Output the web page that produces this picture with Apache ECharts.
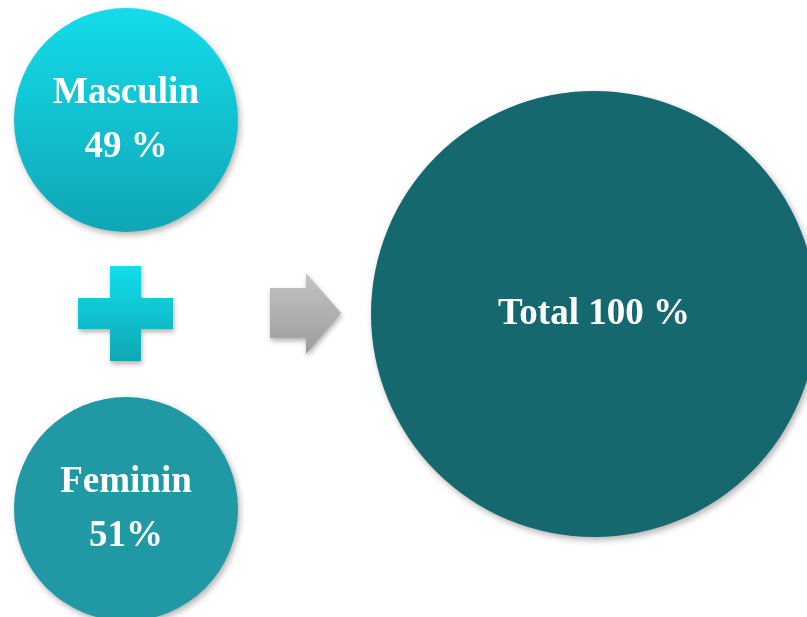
<!DOCTYPE html>
<html>
<head>
<meta charset="utf-8">
<script src="https://cdn.jsdelivr.net/npm/echarts@6/dist/echarts.min.js"></script>
<style>html,body{margin:0;padding:0;background:#fff;}#c{width:807px;height:617px;}</style>
</head>
<body>
<div id="c"></div>
<script>
var categories = ['Masculin', 'Feminin'];
var values = [49, 51];
var valueTexts = ['49 %', '51%'];
var totalLabel = 'Total';
var totalValue = 100;
var totalText = '100 %';

var chart = echarts.init(document.getElementById('c'));

function circle(name, value, text, center, radius, color, lineHeight) {
  return {
    type: 'pie', center: center, radius: [0, radius], silent: true,
    startAngle: 90, animation: false,
    label: {
      show: true, position: 'center',
      formatter: text,
      fontFamily: 'Liberation Serif', fontWeight: 'bold', color: '#fff',
      fontSize: 37, lineHeight: lineHeight
    },
    labelLine: { show: false },
    itemStyle: {
      color: color, borderWidth: 0,
      shadowBlur: 6, shadowOffsetX: 2, shadowOffsetY: 3, shadowColor: 'rgba(0,0,0,0.3)'
    },
    emphasis: { disabled: true },
    data: [{ name: name, value: value }]
  };
}

var cyanGrad = new echarts.graphic.LinearGradient(0, 0, 0, 1, [
  { offset: 0, color: '#14DCEB' }, { offset: 1, color: '#0FA6B5' }
]);
var plusGrad = new echarts.graphic.LinearGradient(0, 0, 0, 1, [
  { offset: 0, color: '#12DEEC' }, { offset: 1, color: '#0FA7B4' }
]);
var arrowGrad = new echarts.graphic.LinearGradient(0, 0, 0, 1, [
  { offset: 0, color: '#C4C4C4' }, { offset: 1, color: '#9C9C9C' }
]);

chart.setOption({
  backgroundColor: '#ffffff',
  graphic: [
    {
      type: 'polygon', z: 5,
      shape: { points: [[110,266],[141,266],[141,298],[173,298],[173,329],[141,329],[141,361],[110,361],[110,329],[78,329],[78,298],[110,298]] },
      style: { fill: plusGrad, shadowBlur: 5, shadowOffsetX: 1, shadowOffsetY: 3, shadowColor: 'rgba(0,0,0,0.3)' }
    },
    {
      type: 'polygon', z: 5,
      shape: { points: [[270,288],[306,288],[306,273],[341,313],[306,354],[306,338],[270,338]] },
      style: { fill: arrowGrad, shadowBlur: 5, shadowOffsetX: 1, shadowOffsetY: 3, shadowColor: 'rgba(0,0,0,0.3)' }
    }
  ],
  series: [
    circle(categories[0], values[0], categories[0] + '\n' + valueTexts[0], [126, 120], 112, cyanGrad, 54),
    circle(categories[1], values[1], categories[1] + '\n' + valueTexts[1], [126, 509], 112, '#2099A4', 54),
    circle(totalLabel, totalValue, totalLabel + ' ' + totalText, [594, 314], 223, '#15686E', 40)
  ]
});
</script>
</body>
</html>
